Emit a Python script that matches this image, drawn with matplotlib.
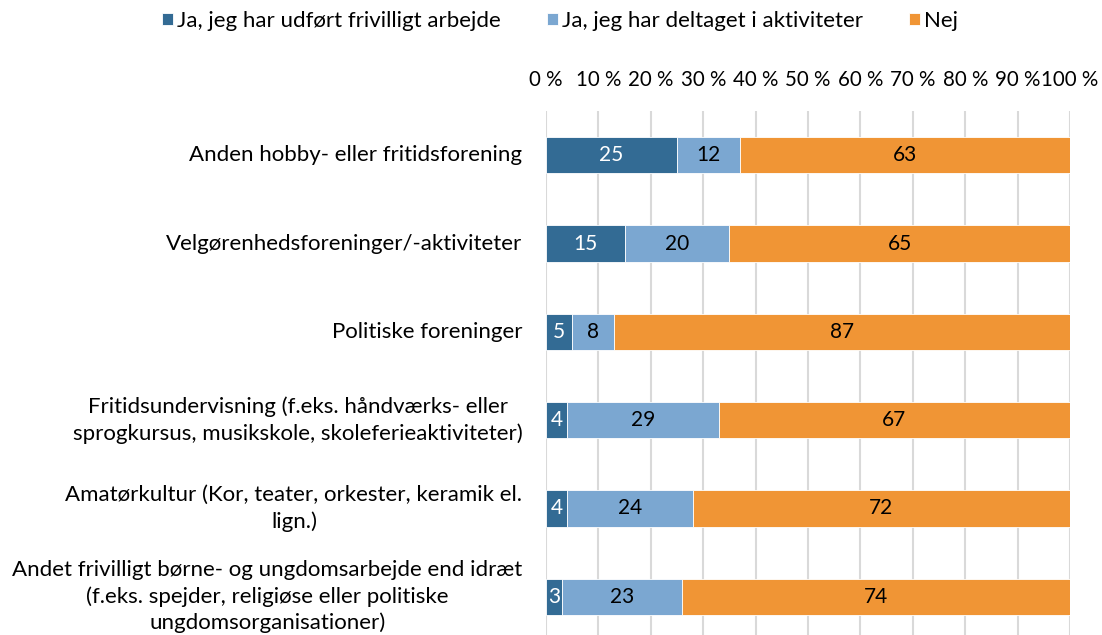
import matplotlib.pyplot as plt
import numpy as np

plt.rcParams['font.family'] = ['Lato', 'DejaVu Sans']

kategorier = ['Anden hobby- eller fritidsforening',
              'Velgørenhedsforeninger/-aktiviteter',
              'Politiske foreninger',
              'Fritidsundervisning (f.eks. håndværks- eller\nsprogkursus, musikskole, skoleferieaktiviteter)',
              'Amatørkultur (Kor, teater, orkester, keramik el.\nlign.)',
              'Andet frivilligt børne- og ungdomsarbejde end idræt\n(f.eks. spejder, religiøse eller politiske\nungdomsorganisationer)']
frivillig = [25, 15, 5, 4, 4, 3]
deltaget = [12, 20, 8, 29, 24, 23]
nej = [63, 65, 87, 67, 72, 74]

serier = ['Ja, jeg har udført frivilligt arbejde', 'Ja, jeg har deltaget i aktiviteter', 'Nej']
farver = ['#336B94', '#7BA7D1', '#F09535']
tekstfarver = ['white', 'black', 'black']

fig = plt.figure(figsize=(11.02, 6.35), dpi=100)
ax = fig.add_axes([546/1102, -6/635, 524/1102, 530/635])

y = np.arange(len(kategorier))
venstre = np.zeros(len(kategorier))
handles = []
for vals, navn, farve, tf in zip([frivillig, deltaget, nej], serier, farver, tekstfarver):
    rects = ax.barh(y, vals, left=venstre, height=0.41, color=farve,
                    edgecolor='white', linewidth=0.6, label=navn)
    ax.bar_label(rects, labels=[f'{v:.0f}' for v in vals], label_type='center',
                 color=tf, fontsize=15)
    venstre += np.array(vals)
    handles.append(rects)

ax.set_xlim(0, 100)
ax.set_ylim(len(kategorier) - 0.5, -0.5)
ax.set_xticks(np.arange(0, 101, 10))
ax.set_xticklabels([f'{t} %' for t in range(0, 101, 10)])
ax.xaxis.tick_top()
ax.tick_params(axis='x', length=0, pad=15, labelsize=14.8)
ax.set_yticks(y)
ax.set_yticklabels(kategorier)
ax.tick_params(axis='y', length=0, pad=17, labelsize=16)
for lbl in ax.get_yticklabels():
    lbl.set_multialignment('center')
    lbl.set_linespacing(1.36)
    lbl.set_va('center')

ax.grid(axis='x', color='#D9D9D9', linewidth=1.5)
ax.set_axisbelow(True)
for s in ax.spines.values():
    s.set_visible(False)

fig.legend(handles=handles, labels=serier, loc='center', bbox_to_anchor=(560/1102, 1 - 21/635),
           ncol=3, frameon=False, fontsize=16, handlelength=0.5, handleheight=0.5,
           handletextpad=0.15, columnspacing=2.1)

fig.savefig('out.png', dpi=100)
